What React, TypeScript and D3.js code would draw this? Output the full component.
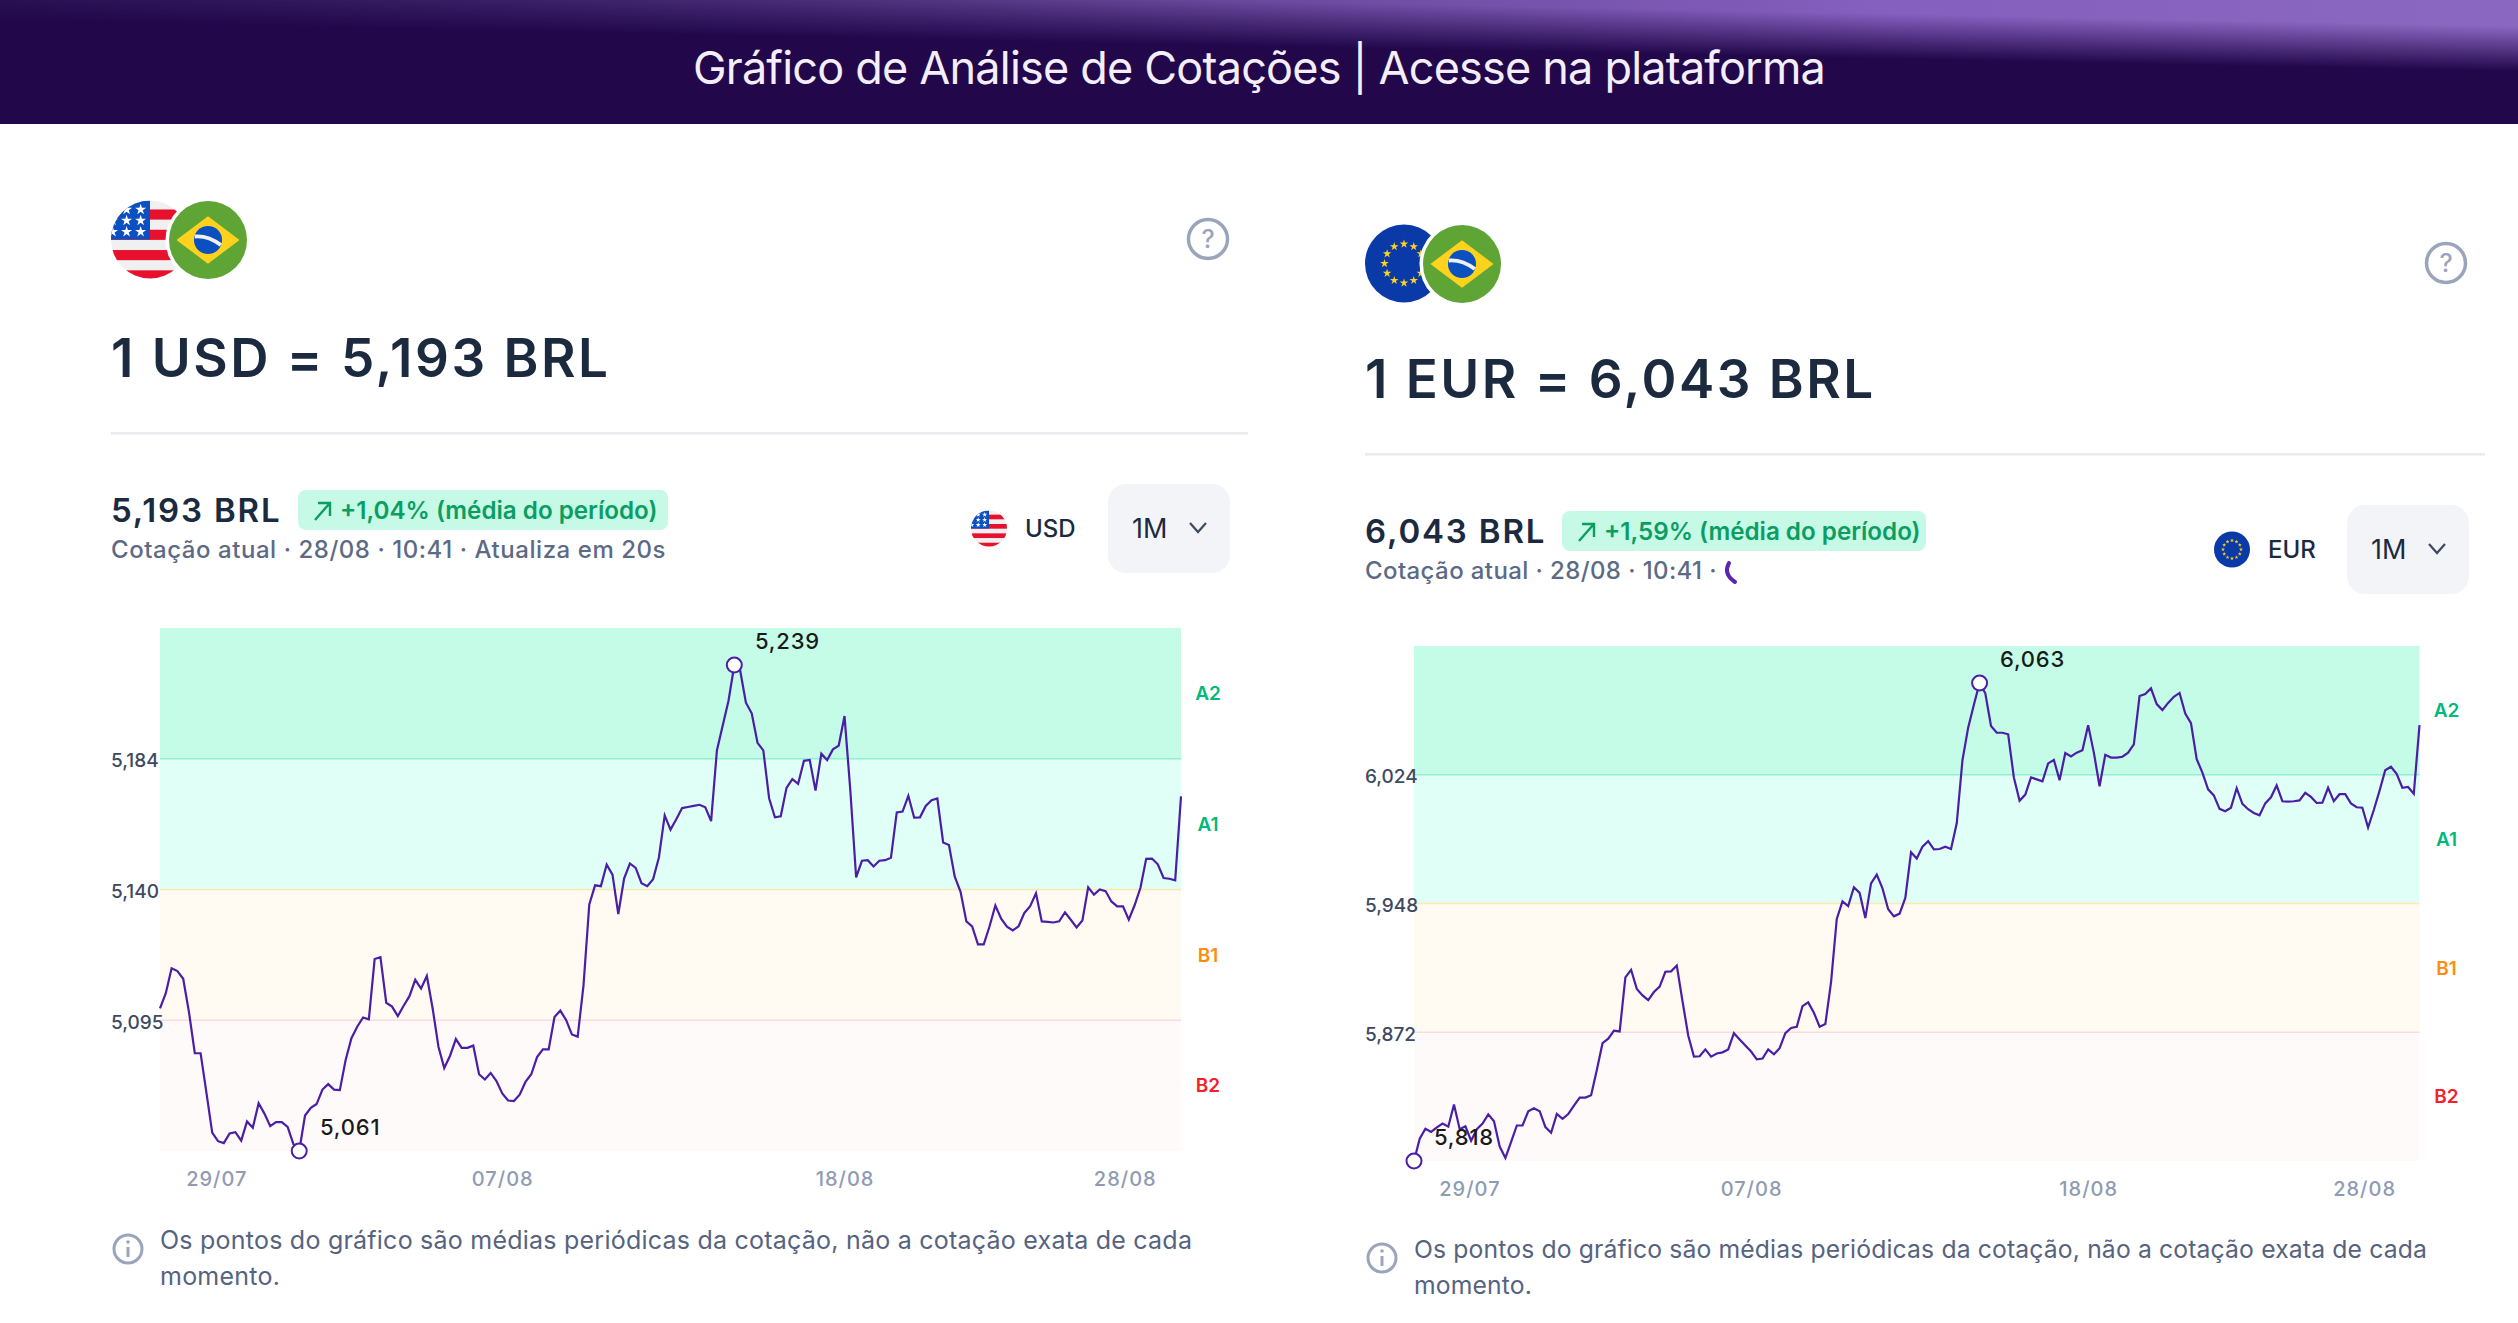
import * as d3 from "d3";
import {useEffect, useRef} from "react";

const FONT = "Inter, 'Noto Sans', sans-serif";
const INK = "#1b2a3f";
const LINE = "#4a1ea6";

const titleText = "Gráfico de Análise de Cotações | Acesse na plataforma";
const noteLines = ["Os pontos do gráfico são médias periódicas da cotação, não a cotação exata de cada", "momento."];
const zones = ["A2", "A1", "B1", "B2"];
const zoneFill = ["#c5fce8", "#e0fff6", "#fffbf3", "#fffafa"];
const zoneBorder = ["#90f0cf", "#ffe7ae", "#fadbe0"];
const zoneText = ["#00b97c", "#00b97c", "#ff8c10", "#f5202a"];
const dateLabels = ["29/07", "07/08", "18/08", "28/08"];
const dateIndex = [9.7, 59, 118, 166.3];

const usdTicks = ["5,184", "5,140", "5,095"];
const usdValues = [
    5.1132, 5.1188, 5.1279, 5.1269, 5.1241, 5.1118, 5.0968, 5.0968, 5.0824, 5.0677, 5.0646, 5.0639,
    5.0674, 5.0679, 5.0648, 5.0718, 5.0695, 5.0785, 5.0747, 5.0701, 5.0716, 5.0716, 5.0698, 5.0635,
    5.0610, 5.0740, 5.0768, 5.0782, 5.0835, 5.0855, 5.0835, 5.0833, 5.0943, 5.1023, 5.1065, 5.1099,
    5.1092, 5.1313, 5.1320, 5.1153, 5.1139, 5.1104, 5.1142, 5.1177, 5.1237, 5.1205, 5.1251, 5.1132,
    5.0992, 5.0914, 5.0959, 5.1020, 5.0988, 5.0988, 5.0996, 5.0891, 5.0872, 5.0896, 5.0866, 5.0821,
    5.0795, 5.0793, 5.0816, 5.0863, 5.0891, 5.0954, 5.0982, 5.0982, 5.1101, 5.1124, 5.1090, 5.1037,
    5.1029, 5.1216, 5.1513, 5.1583, 5.1580, 5.1659, 5.1622, 5.1478, 5.1608, 5.1663, 5.1647, 5.1591,
    5.1580, 5.1605, 5.1685, 5.1839, 5.1787, 5.1825, 5.1866, 5.1870, 5.1874, 5.1878, 5.1869, 5.1818,
    5.2077, 5.2168, 5.2259, 5.2390, 5.2371, 5.2252, 5.2213, 5.2105, 5.2077, 5.1902, 5.1832, 5.1836,
    5.1940, 5.1972, 5.1955, 5.2039, 5.2042, 5.1930, 5.2065, 5.2042, 5.2081, 5.2095, 5.2203, 5.1930,
    5.1612, 5.1673, 5.1675, 5.1652, 5.1673, 5.1675, 5.1684, 5.1850, 5.1853, 5.1911, 5.1831, 5.1832,
    5.1874, 5.1895, 5.1901, 5.1740, 5.1731, 5.1615, 5.1559, 5.1451, 5.1433, 5.1367, 5.1367, 5.1433,
    5.1509, 5.1461, 5.1432, 5.1418, 5.1433, 5.1482, 5.1507, 5.1554, 5.1451, 5.1449, 5.1447, 5.1451,
    5.1484, 5.1457, 5.1429, 5.1454, 5.1576, 5.1549, 5.1568, 5.1562, 5.1524, 5.1506, 5.1506, 5.1457,
    5.1510, 5.1573, 5.1680, 5.1681, 5.1660, 5.1610, 5.1607, 5.1601, 5.1909,
];

const eurTicks = ["6,024", "5,948", "5,872"];
const eurValues = [
    5.8180, 5.8294, 5.8345, 5.8329, 5.8352, 5.8372, 5.8356, 5.8470, 5.8343, 5.8358, 5.8284, 5.8343,
    5.8372, 5.8419, 5.8384, 5.8254, 5.8196, 5.8278, 5.8362, 5.8362, 5.8435, 5.8450, 5.8435, 5.8354,
    5.8325, 5.8421, 5.8396, 5.8421, 5.8464, 5.8505, 5.8505, 5.8517, 5.8646, 5.8784, 5.8807, 5.8848,
    5.8844, 5.9121, 5.9160, 5.9062, 5.9029, 5.9005, 5.9046, 5.9074, 5.9150, 5.9152, 5.9182, 5.8999,
    5.8823, 5.8715, 5.8717, 5.8752, 5.8715, 5.8731, 5.8737, 5.8752, 5.8835, 5.8803, 5.8772, 5.8741,
    5.8701, 5.8705, 5.8752, 5.8727, 5.8758, 5.8835, 5.8862, 5.8868, 5.8974, 5.8993, 5.8940, 5.8868,
    5.8882, 5.9097, 5.9421, 5.9511, 5.9487, 5.9583, 5.9554, 5.9425, 5.9603, 5.9648, 5.9577, 5.9470,
    5.9434, 5.9448, 5.9528, 5.9762, 5.9730, 5.9791, 5.9819, 5.9777, 5.9779, 5.9791, 5.9779, 5.9911,
    6.0234, 6.0401, 6.0518, 6.0630, 6.0577, 6.0410, 6.0375, 6.0375, 6.0367, 6.0146, 6.0026, 6.0058,
    6.0146, 6.0136, 6.0126, 6.0218, 6.0236, 6.0132, 6.0271, 6.0254, 6.0273, 6.0285, 6.0414, 6.0273,
    6.0101, 6.0262, 6.0248, 6.0248, 6.0252, 6.0273, 6.0316, 6.0563, 6.0573, 6.0603, 6.0522, 6.0491,
    6.0528, 6.0559, 6.0579, 6.0473, 6.0424, 6.0240, 6.0171, 6.0085, 6.0054, 5.9985, 5.9973, 5.9991,
    6.0091, 6.0011, 5.9983, 5.9964, 5.9952, 6.0013, 6.0044, 6.0105, 6.0024, 6.0022, 6.0024, 6.0028,
    6.0067, 6.0046, 6.0015, 6.0017, 6.0093, 6.0024, 6.0060, 6.0060, 6.0013, 5.9993, 5.9991, 5.9889,
    5.9979, 6.0077, 6.0183, 6.0201, 6.0165, 6.0093, 6.0097, 6.0062, 6.0414,
];

type Box = {left: number, right: number, top: number, bottom: number, maxY: number, minY: number, tickX: number};

// one quote chart: four equal zones behind a line scaled so the extremes land on their markers
function drawChart(node: SVGGElement, values: number[], ticks: string[], box: Box, labels: number[]) {
    const g = d3.select(node).html("");
    const x = d3.scaleLinear().domain([0, values.length - 1]).range([box.left, box.right]);
    const y = d3.scaleLinear().domain(d3.extent(values) as [number, number]).range([box.minY, box.maxY]);
    const band = d3.scaleBand().domain(zones).range([box.top, box.bottom]);
    const bh = band.bandwidth();

    g.selectAll(".zone").data(zones).join("rect")
        .attr("class", "zone")
        .attr("x", box.left)
        .attr("y", d => band(d)!)
        .attr("width", box.right - box.left)
        .attr("height", bh)
        .attr("fill", (_, i) => zoneFill[i]);

    g.selectAll(".border").data(zones.slice(0, 3)).join("line")
        .attr("class", "border")
        .attr("x1", box.left)
        .attr("x2", box.right)
        .attr("y1", d => band(d)! + bh)
        .attr("y2", d => band(d)! + bh)
        .attr("stroke", (_, i) => zoneBorder[i])
        .attr("stroke-width", 1.6);

    const tickScale = d3.scalePoint().domain(ticks).range([box.top + bh, box.top + bh * 3]);
    const yAxis = g.append("g").call(d3.axisLeft(tickScale).tickSize(0));
    yAxis.select(".domain").remove();
    yAxis.selectAll("text")
        .attr("x", box.tickX)
        .attr("dy", "0.42em")
        .attr("text-anchor", "start")
        .attr("font-family", FONT)
        .attr("font-size", 19)
        .attr("font-weight", 500)
        .attr("fill", "#3d4a60");

    const xAxis = g.append("g")
        .attr("transform", `translate(0,${box.bottom})`)
        .call(d3.axisBottom(x).tickValues(dateIndex).tickSize(0).tickFormat((_, i) => dateLabels[i]));
    xAxis.select(".domain").remove();
    xAxis.selectAll("text")
        .attr("y", 21)
        .attr("font-family", FONT)
        .attr("font-size", 20)
        .attr("font-weight", 500)
        .attr("letter-spacing", 1)
        .attr("fill", "#8f9bb3");

    g.selectAll(".zone-label").data(zones).join("text")
        .attr("class", "zone-label")
        .attr("x", box.right + 27)
        .attr("y", d => band(d)! + bh / 2)
        .attr("dy", "0.35em")
        .attr("text-anchor", "middle")
        .attr("font-family", FONT)
        .attr("font-size", 19)
        .attr("font-weight", 600)
        .attr("fill", (_, i) => zoneText[i])
        .text(d => d);

    const line = d3.line<number>().x((_, i) => x(i)).y(d => y(d));
    g.append("path")
        .attr("d", line(values))
        .attr("fill", "none")
        .attr("stroke", LINE)
        .attr("stroke-width", 2.2);

    const maxIndex = values.indexOf(d3.max(values)!);
    const minIndex = values.indexOf(d3.min(values)!);
    [maxIndex, minIndex].forEach(i => {
        g.append("circle")
            .attr("cx", x(i))
            .attr("cy", y(values[i]))
            .attr("r", 7.5)
            .attr("fill", "#fff")
            .attr("stroke", LINE)
            .attr("stroke-width", 2);
    });

    const fmt = (v: number) => v.toFixed(3).replace(".", ",");
    [[maxIndex, labels[0], labels[2]], [minIndex, labels[1], labels[3]]].forEach(([i, lx, ly]) => {
        g.append("text")
            .attr("x", lx)
            .attr("y", ly)
            .attr("font-family", FONT)
            .attr("font-size", 22)
            .attr("font-weight", 500)
            .attr("letter-spacing", 0.8)
            .attr("fill", "#1a1a1a")
            .text(fmt(values[i]));
    });
}

function Chart(props: {values: number[], ticks: string[], box: Box, labels: number[]}) {
    const ref = useRef<SVGGElement>(null);
    const {values, ticks, box, labels} = props;
    useEffect(() => {
        if (ref.current) drawChart(ref.current, values, ticks, box, labels);
    }, []);
    return <g ref={ref}/>;
}

function Star({x, y, size, fill}: {x: number, y: number, size: number, fill: string}) {
    return <path transform={`translate(${x},${y})`} d={d3.symbol(d3.symbolStar, size)()!} fill={fill}/>;
}

function UsFlag({cx, cy, r, id}: {cx: number, cy: number, r: number, id: string}) {
    return <g>
        <clipPath id={id}><circle cx={cx} cy={cy} r={r}/></clipPath>
        <g clipPath={`url(#${id})`}>
            <rect x={cx - r} y={cy - r} width={2 * r} height={2 * r} fill="#f0f0f0"/>
            {d3.range(4).map(i =>
                <rect key={i} x={cx - r} y={cy - r * 0.77 + i * r * 0.52} width={2 * r} height={r * 0.26} fill="#e8112d"/>)}
            <rect x={cx - r} y={cy - r} width={r} height={r} fill="#0a50c0"/>
            {d3.range(3).flatMap(row => d3.range(3).map(col =>
                <Star key={`${row}-${col}`} x={cx - r * (0.24 + col * 0.36)} y={cy - r * (0.77 - row * 0.285)} size={r * r * 0.025} fill="#fff"/>))}
        </g>
    </g>;
}

function EuFlag({cx, cy, r}: {cx: number, cy: number, r: number}) {
    const angles = d3.range(12).map(i => i * Math.PI / 6);
    return <g>
        <circle cx={cx} cy={cy} r={r} fill="#0a3aa8"/>
        {angles.map((a, i) =>
            <Star key={i} x={cx + Math.cos(a) * r * 0.5} y={cy + Math.sin(a) * r * 0.5} size={r * r * 0.015} fill="#ffd21e"/>)}
    </g>;
}

function BrFlag({cx, cy, r}: {cx: number, cy: number, r: number}) {
    const d = r * 0.81;
    return <g>
        <circle cx={cx} cy={cy} r={r + 3.5} fill="#fff"/>
        <circle cx={cx} cy={cy} r={r} fill="#5fa535"/>
        <path d={`M${cx - d},${cy}L${cx},${cy - d * 0.75}L${cx + d},${cy}L${cx},${cy + d * 0.75}Z`} fill="#ffd21e"/>
        <circle cx={cx} cy={cy} r={r * 0.36} fill="#0a50c0"/>
        <path d={`M${cx - r * 0.34},${cy - r * 0.09}Q${cx},${cy - r * 0.12} ${cx + r * 0.33},${cy + r * 0.13}`} fill="none" stroke="#f0f0f0" strokeWidth={r * 0.1}/>
    </g>;
}

type PanelProps = {
    base: string, quote: string, pct: string, sub: string, dy: number, flagDy: number, cx: number,
    headEnd: number, badge: number[], right: number, values: number[], ticks: string[], box: Box,
    labels: number[], button: number, smallFlag: number, codeX: number, spinner: boolean,
    subSpacing: number, noteSize: number, noteSpacing: number,
};

function Panel(p: PanelProps) {
    const {dy, cx, flagDy} = p;
    return <g>
        {p.base === "USD" ? <UsFlag cx={cx + 39} cy={239.5 + flagDy} r={39} id="us-large"/> : <EuFlag cx={cx + 39} cy={239.5 + flagDy} r={39}/>}
        <BrFlag cx={cx + 97} cy={240 + flagDy} r={39}/>

        <circle cx={p.right - 40} cy={239 + flagDy} r={19.5} fill="none" stroke="#9aa5bb" strokeWidth={3.5}/>
        <text x={p.right - 40} y={248 + flagDy} textAnchor="middle" fontFamily={FONT} fontSize={25} fontWeight={500} fill="#9aa5bb">?</text>

        <text x={cx} y={377 + dy} fontFamily={FONT} fontSize={53} fontWeight={600} letterSpacing={2.5} fill={INK}>{`1 ${p.base} = ${p.quote} BRL`}</text>
        <rect x={cx} y={432 + dy} width={p.headEnd} height={2.5} fill="#e9eaf2"/>

        <text x={cx} y={522 + dy} fontFamily={FONT} fontSize={33} fontWeight={600} letterSpacing={1.85} fill={INK}>{`${p.quote} BRL`}</text>
        <rect x={p.badge[0]} y={490 + dy} width={p.badge[1]} height={40} rx={8} fill="#c6f9e6"/>
        <path d={`M${p.badge[0] + 17},${520 + dy}L${p.badge[0] + 31},${504 + dy}M${p.badge[0] + 20},${503 + dy}H${p.badge[0] + 32}V${516 + dy}`} fill="none" stroke="#0a9e62" strokeWidth={2.4}/>
        <text x={p.badge[0] + 42} y={519 + dy} fontFamily={FONT} fontSize={24.2} fontWeight={600} fill="#0a9e62">{`${p.pct} (média do período)`}</text>
        <text x={cx} y={558 + dy} fontFamily={FONT} fontSize={24} fontWeight={500} letterSpacing={p.subSpacing} fill="#5d6a85">{p.sub}</text>
        {p.spinner && <path d={`M${cx + 364},${542 + dy}Q${cx + 358},${553 + dy} ${cx + 370},${561 + dy}`} fill="none" stroke="#5a25b0" strokeWidth={4} strokeLinecap="round"/>}

        {p.base === "USD" ? <UsFlag cx={p.smallFlag} cy={528.5 + dy} r={18} id="us-small"/> : <EuFlag cx={p.smallFlag} cy={528.5 + dy} r={18}/>}
        <text x={p.codeX} y={536.5 + dy} fontFamily={FONT} fontSize={24} fontWeight={500} fill={INK}>{p.base}</text>

        <rect x={p.button} y={484 + dy} width={122} height={89} rx={18} fill="#f3f4f8"/>
        <text x={p.button + 24} y={538 + dy} fontFamily={FONT} fontSize={27} fontWeight={400} fill={INK}>1M</text>
        <path d={`M${p.button + 82},${523 + dy}L${p.button + 90},${532 + dy}L${p.button + 98},${523 + dy}`} fill="none" stroke="#3d4a60" strokeWidth={2.2}/>

        <Chart values={p.values} ticks={p.ticks} box={p.box} labels={p.labels}/>

        <circle cx={p.box.left - 32} cy={1249 + dy * 0.43} r={14} fill="none" stroke="#9aa5bb" strokeWidth={3}/>
        <line x1={p.box.left - 32} x2={p.box.left - 32} y1={1247 + dy * 0.43} y2={1257 + dy * 0.43} stroke="#9aa5bb" strokeWidth={3}/>
        <circle cx={p.box.left - 32} cy={1242 + dy * 0.43} r={1.8} fill="#9aa5bb"/>
        {noteLines.map((t, i) =>
            <text key={i} x={p.box.left} y={1248.5 + dy * 0.43 + i * 36} fontFamily={FONT} fontSize={p.noteSize} letterSpacing={p.noteSpacing} fill="#566380">{t}</text>)}
    </g>;
}

export default function App() {
    return (
        <svg width={2518} height={1323} viewBox="0 0 2518 1323"
             style={{position: "absolute", left: 0, top: 0, background: "#fff"}}>
            <defs>
                <linearGradient id="glow-v" gradientUnits="userSpaceOnUse" x1={1200} y1={0} x2={1199.1} y2={45}>
                    <stop offset="0" stopColor="#fff"/>
                    <stop offset="1" stopColor="#000"/>
                </linearGradient>
                <mask id="glow-mask" maskUnits="userSpaceOnUse" x={0} y={0} width={2518} height={124}>
                    <rect x={0} y={0} width={2518} height={124} fill="url(#glow-v)"/>
                </mask>
                <linearGradient id="glow-h" x1="0" x2="1" y1="0" y2="0">
                    <stop offset="0" stopColor="#2e1a5c"/>
                    <stop offset="0.25" stopColor="#4a3078"/>
                    <stop offset="0.5" stopColor="#6a4a9e"/>
                    <stop offset="0.75" stopColor="#8560bf"/>
                    <stop offset="1" stopColor="#8a68c0"/>
                </linearGradient>
            </defs>
            <rect x={0} y={0} width={2518} height={124} fill="#22084b"/>
            <rect x={0} y={0} width={2518} height={124} fill="url(#glow-h)" mask="url(#glow-mask)"/>
            <text x={1259} y={84} textAnchor="middle" fontFamily={FONT} fontSize={45} letterSpacing={-0.8} fill="#f4eefb">{titleText}</text>

            <Panel base="USD" quote="5,193" pct="+1,04%" sub="Cotação atual · 28/08 · 10:41 · Atualiza em 20s"
                   dy={0} flagDy={0} cx={111} headEnd={1137} badge={[298, 370]} right={1248}
                   values={usdValues} ticks={usdTicks}
                   box={{left: 160, right: 1181, top: 628, bottom: 1151, maxY: 665, minY: 1151, tickX: 111}}
                   labels={[755, 320, 649, 1135]} button={1108} smallFlag={989} codeX={1025} spinner={false}
                   subSpacing={0.55} noteSize={25} noteSpacing={0.23}/>
            <Panel base="EUR" quote="6,043" pct="+1,59%" sub="Cotação atual · 28/08 · 10:41 ·"
                   dy={21} flagDy={24} cx={1365} headEnd={1120} badge={[1562, 364]} right={2486}
                   values={eurValues} ticks={eurTicks}
                   box={{left: 1414, right: 2419.5, top: 646, bottom: 1161, maxY: 683, minY: 1161, tickX: 1365}}
                   labels={[2000, 1434, 667, 1145]} button={2347} smallFlag={2232} codeX={2268} spinner={true}
                   subSpacing={0.4} noteSize={24.7} noteSpacing={0.15}/>
        </svg>
    );
}
